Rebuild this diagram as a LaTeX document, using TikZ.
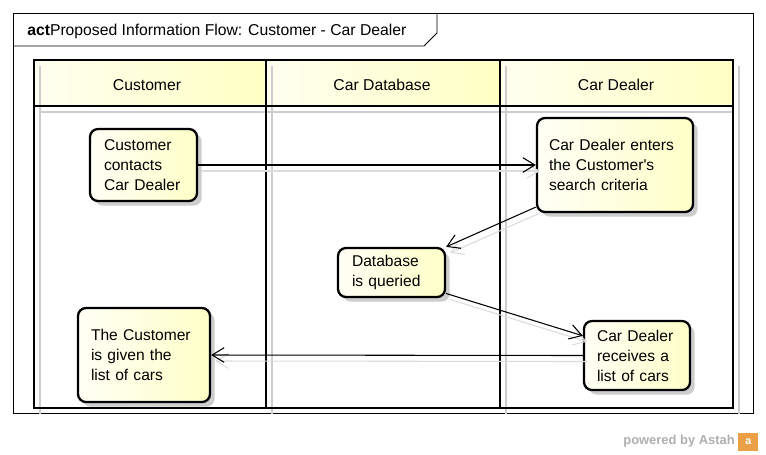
\documentclass[tikz,border=0pt]{standalone}
\usepackage{fontspec}
\setmainfont{Liberation Sans}
\usetikzlibrary{arrows.meta,shadows}
\definecolor{ylo}{RGB}{255,255,246}
\definecolor{yhi}{RGB}{255,255,200}
\definecolor{hdrlo}{RGB}{255,255,240}
\definecolor{hdrhi}{RGB}{255,255,195}
\definecolor{shad}{RGB}{205,205,205}
\definecolor{astah}{RGB}{175,175,175}
\definecolor{astahicon}{RGB}{236,160,70}
\tikzset{
  actbox/.style={draw, line width=1.7pt, rounded corners=6pt,
    left color=ylo, right color=yhi, align=left, inner sep=0pt,
    font=\fontsize{11.7}{15}\selectfont,
    drop shadow={shadow xshift=3.5pt, shadow yshift=-3.5pt, fill=shad, opacity=1}},
  lane/.style={line width=2.2pt},
  laneshadow/.style={draw=shad, line width=1.4pt},
  flow/.style={line width=0.8pt, -{Straight Barb[length=9pt,width=11pt,line width=0.8pt]}},
  flowshadow/.style={draw=shad!70, line width=0.8pt, -{Straight Barb[length=9pt,width=11pt,line width=0.8pt]},
    transform canvas={xshift=3pt,yshift=-4.5pt}},
  hdr/.style={font=\fontsize{11.8}{14}\selectfont}
}
\begin{document}
\begin{tikzpicture}[x=0.75pt,y=-0.75pt]
\useasboundingbox[fill=white] (0,0) rectangle (766,454);

% outer frame with title tab
\draw[line width=0.6pt] (13,13) rectangle (753,413);
\draw[line width=0.6pt] (13,46) -- (424,46) -- (437,33) -- (437,13);
\node[anchor=west, inner sep=0pt, font=\fontsize{11.8}{14}\selectfont] (title) at (27,31)
  {\textbf{act}Proposed Information Flow: Customer - Car Dealer};

% header fills
\shade[left color=hdrlo, right color=hdrhi] (34,60) rectangle (266,106);
\shade[left color=hdrlo, right color=hdrhi] (266,60) rectangle (500,106);
\shade[left color=hdrlo, right color=hdrhi] (500,60) rectangle (733,106);

% lane shadows
\draw[laneshadow] (40,66) -- (40,414);
\draw[laneshadow] (272,66) -- (272,414);
\draw[laneshadow] (506,66) -- (506,414);
\draw[laneshadow] (739,66) -- (739,414);
\draw[laneshadow] (40,112) -- (733,112);

% lanes
\draw[lane] (34,60) rectangle (733,408);
\draw[lane] (34,106) -- (733,106);
\draw[lane] (266,60) -- (266,408);
\draw[lane] (500,60) -- (500,408);

\node[hdr] (h1) at (147,85) {Customer};
\node[hdr] (h2) at (382,85) {Car Database};
\node[hdr] (h3) at (616,85) {Car Dealer};

% actions
\node[actbox, minimum width=80.25pt, minimum height=54pt, text width=59.25pt] (n1) at (143.5,165)
  {Customer\\contacts\\Car Dealer};
\node[actbox, minimum width=117pt, minimum height=70.5pt, text width=99pt] (n2) at (615,165)
  {Car Dealer enters\\the Customer\textquotesingle s\\search criteria};
\node[actbox, minimum width=80.25pt, minimum height=36.75pt, text width=59.25pt] (n3) at (391.5,272.5)
  {Database\\is queried};
\node[actbox, minimum width=79.5pt, minimum height=51.75pt, text width=60pt] (n4) at (637,355.5)
  {Car Dealer\\receives a\\list of cars};
\node[actbox, minimum width=99pt, minimum height=70.5pt, text width=79.5pt] (n5) at (144,355)
  {The Customer\\is given the\\list of cars};

% flow shadows
\draw[flowshadow] (n1.east) -- (n2.west);
\draw[flowshadow] (n2.208) -- (n3.north east);
\draw[flowshadow] (n3.-21) -- (n4.160);
\draw[flowshadow] (n4.west) -- (n5.east);

% flows
\draw[flow] (n1.east) -- (n2.west);
\draw[flow] (n2.208) -- (n3.north east);
\draw[flow] (n3.-21) -- (n4.160);
\draw[flow] (n4.west) -- (n5.east);

% watermark
\node[anchor=east, inner sep=0pt, text=astah, font=\fontsize{9.7}{11}\selectfont\bfseries] (wm) at (735,441) {powered by Astah};
\node[anchor=west, inner sep=0pt, minimum width=15pt, minimum height=14pt, fill=astahicon,
  text=white, font=\fontsize{8}{9}\selectfont\bfseries] (icon) at (738,442) {a};
\end{tikzpicture}
\end{document}
